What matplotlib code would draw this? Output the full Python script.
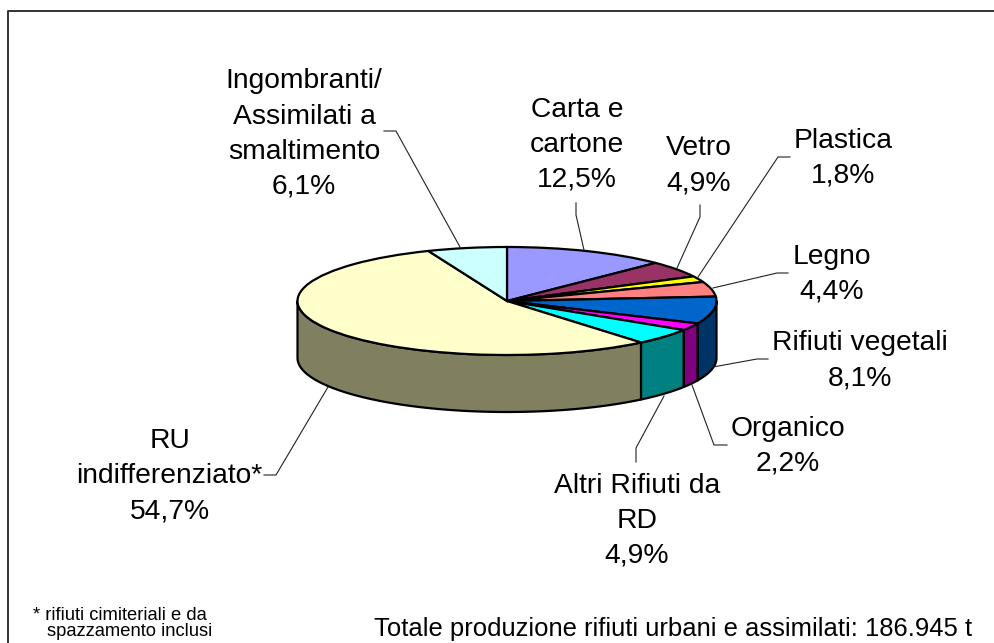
import numpy as np
import matplotlib
matplotlib.use("Agg")
import matplotlib.pyplot as plt
from matplotlib.lines import Line2D

plt.rcParams["font.family"] = ["Liberation Sans", "DejaVu Sans"]

# data
categories = ["Carta e\ncartone", "Vetro", "Plastica", "Legno", "Rifiuti vegetali",
              "Organico", "Altri Rifiuti da\nRD", "RU\nindifferenziato*",
              "Ingombranti/\nAssimilati a\nsmaltimento"]
values = [12.5, 4.9, 1.8, 4.4, 8.1, 2.2, 4.9, 54.7, 6.1]
top_colors = ["#9999FF", "#993366", "#FFFF00", "#FF8080", "#0066CC",
              "#FF00FF", "#00FFFF", "#FFFFCC", "#CCFFFF"]
side_colors = ["#4D4D80", "#4D1A33", "#808000", "#804040", "#003366",
               "#800080", "#008080", "#808060", "#668080"]

# layout, in pixels of the 994x643 image
W, H = 994, 643
CX, CY = 507, 301     # centre of the top face
RX, RY = 209.5, 54    # ellipse radii
DEPTH = 57            # height of the wall

label_xy = [(577, 145), (699, 166), (843, 158), (832, 274), (860, 361),
            (788, 446.5), (637, 521), (169.5, 476), (304, 134)]
# leader lines, from the rim to the label
leader_pts = [[(584, 250), (576, 215), (576, 203)],
              [(677, 268), (700, 217), (700, 205)],
              [(698, 277), (778, 157), (790, 157)],
              [(713, 288), (777, 273), (788, 273)],
              [(713, 367), (757, 359), (768, 359)],
              [(692, 385), (714, 445), (727, 445)],
              [(664, 396), (636, 448), (636, 462)],
              [(328, 387), (276, 475), (264, 475)],
              [(460, 247), (396, 131), (384, 131)]]


def px(x, y):
    return x / W, 1 - y / H


fig = plt.figure(figsize=(W / 100, H / 100), dpi=100)
ax = fig.add_axes([0, 0, 1, 1])

# top face, as an ordinary pie squashed by the axis limits
wedges, _ = ax.pie(values, colors=top_colors, startangle=90, counterclock=False,
                   wedgeprops={"edgecolor": "black", "linewidth": 1.6}, frame=True)
ax.set_aspect("auto")
ax.set_xlim((0 - CX) / RX, (W - CX) / RX)
ax.set_ylim((CY - H) / RY, CY / RY)
ax.axis("off")

total = sum(values)
edges = np.cumsum([0] + values) / total * 2 * np.pi
depth = DEPTH / RY

# walls, only the part of the rim that faces the viewer
for i in range(len(values)):
    t0, t1 = max(edges[i], np.pi / 2), min(edges[i + 1], 3 * np.pi / 2)
    if t1 <= t0:
        continue
    t = np.linspace(t0, t1, 80)
    xs = np.sin(t)
    ys = np.cos(t)
    ax.fill(np.r_[xs, xs[::-1]], np.r_[ys, ys[::-1] - depth], facecolor=side_colors[i],
            edgecolor="black", linewidth=1.6, zorder=0.5, joinstyle="round")

for pts in leader_pts:
    fx, fy = zip(*[px(*p) for p in pts])
    fig.add_artist(Line2D(fx, fy, color="#222222", lw=0.8))

for name, val, (x, y) in zip(categories, values, label_xy):
    txt = name + "\n" + f"{val:.1f}".replace(".", ",") + "%"
    fx, fy = px(x, y)
    fig.text(fx, fy, txt, ha="center", va="center", fontsize=20.3, linespacing=1.45, color="black")

# footnote and total
fx, fy = px(33, 615)
fig.text(fx, fy, "* rifiuti cimiteriali e da", fontsize=13.2, va="center")
fx, fy = px(47, 632)
fig.text(fx, fy, "spazzamento inclusi", fontsize=13.2, va="center")
fx, fy = px(374, 629)
fig.text(fx, fy, "Totale produzione rifiuti urbani e assimilati: 186.945 t", fontsize=18.45, va="center")

# chart border: only top and left are inside the image
fx, fy = zip(*[px(8, H), px(8, 11), px(W, 11)])
fig.add_artist(Line2D(fx, fy, color="#333333", lw=1.4))

fig.savefig("out.png", dpi=100, facecolor="white")
